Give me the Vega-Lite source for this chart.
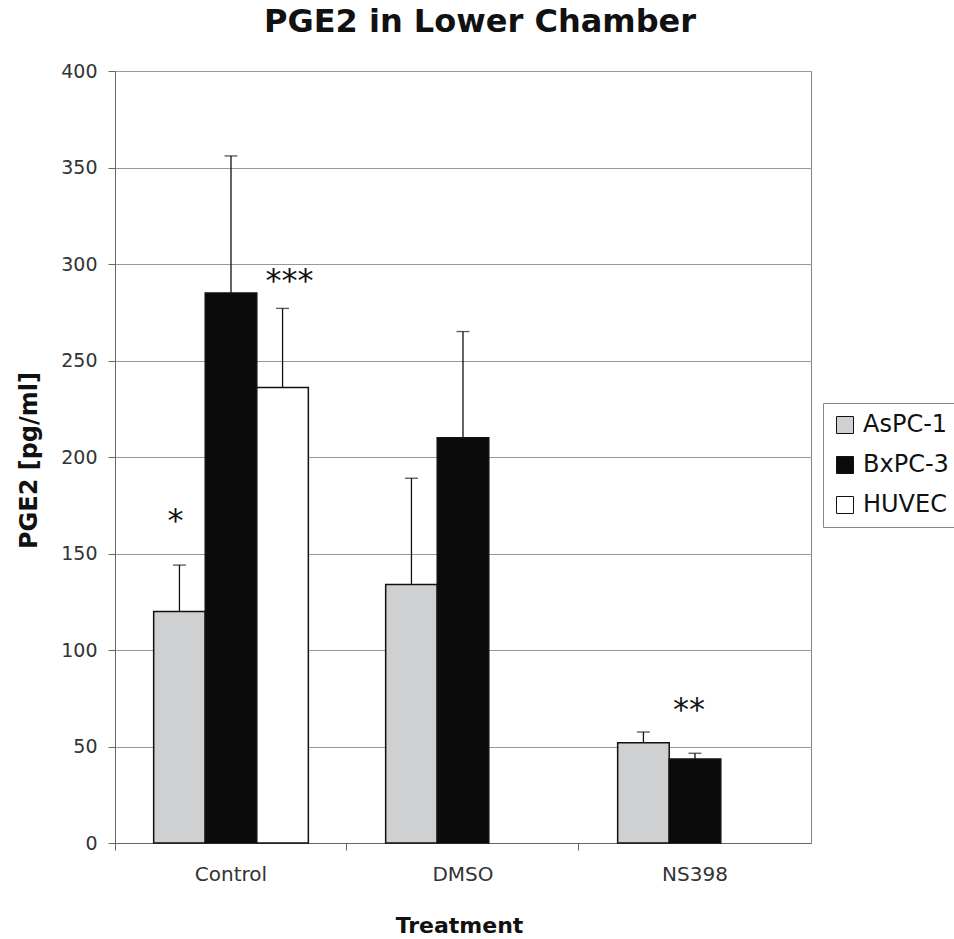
{
  "$schema": "https://vega.github.io/schema/vega-lite/v6.json",
  "autosize": "none",
  "width": 696,
  "height": 772,
  "padding": {"left": 115, "top": 71, "right": 143, "bottom": 96},
  "background": "white",
  "config": {
    "font": "DejaVu Sans",
    "view": {"stroke": "#808080", "strokeWidth": 1}
  },
  "title": {
    "text": "PGE2 in Lower Chamber",
    "fontSize": 32,
    "fontWeight": "bold",
    "font": "DejaVu Sans",
    "color": "#111",
    "anchor": "middle",
    "frame": "group",
    "dx": 17,
    "offset": 23
  },
  "datasets": {
    "bars": [
      {"treatment": "Control", "cell": "AsPC-1", "mean": 120, "upper": 144},
      {"treatment": "Control", "cell": "BxPC-3", "mean": 285, "upper": 356},
      {"treatment": "Control", "cell": "HUVEC", "mean": 236, "upper": 277},
      {"treatment": "DMSO", "cell": "AsPC-1", "mean": 134, "upper": 189},
      {"treatment": "DMSO", "cell": "BxPC-3", "mean": 210, "upper": 265},
      {"treatment": "NS398", "cell": "AsPC-1", "mean": 52, "upper": 57.5},
      {"treatment": "NS398", "cell": "BxPC-3", "mean": 43.5, "upper": 46.5}
    ],
    "notes": [
      {"treatment": "Control", "cell": "AsPC-1", "y": 168.4, "label": "*"},
      {"treatment": "Control", "cell": "HUVEC", "y": 292.7, "label": "***"},
      {"treatment": "NS398", "cell": "BxPC-3", "y": 70.6, "label": "**"}
    ]
  },
  "encoding": {
    "x": {
      "field": "treatment",
      "type": "nominal",
      "sort": ["Control", "DMSO", "NS398"],
      "scale": {"paddingInner": 0.3333, "paddingOuter": 0.1667},
      "axis": {
        "title": "Treatment",
        "titleFont": "DejaVu Sans",
        "titleFontSize": 22,
        "titleFontWeight": "bold",
        "titleColor": "#111",
        "titleX": 344,
        "titleY": 82,
        "titleBaseline": "middle",
        "labelAngle": 0,
        "labelFontSize": 20,
        "labelColor": "#333",
        "labelPadding": 14,
        "tickSize": 7,
        "tickColor": "#666",
        "bandPosition": -0.25,
        "domainColor": "#666"
      }
    },
    "xOffset": {
      "field": "cell",
      "type": "nominal",
      "scale": {"domain": ["AsPC-1", "BxPC-3", "HUVEC"], "paddingInner": 0, "paddingOuter": 0}
    }
  },
  "layer": [
    {
      "data": {"name": "bars"},
      "mark": {"type": "bar", "stroke": "#111", "strokeWidth": 1.5},
      "encoding": {
        "y": {
          "field": "mean",
          "type": "quantitative",
          "scale": {"domain": [0, 400], "nice": false},
          "axis": {
            "values": [0, 50, 100, 150, 200, 250, 300, 350, 400],
            "title": "PGE2 [pg/ml]",
            "titleFont": "DejaVu Sans",
            "titleFontSize": 24,
            "titleFontWeight": "bold",
            "titleColor": "#111",
            "titleX": -86,
            "titleY": 389,
            "titleAlign": "center",
            "titleBaseline": "middle",
            "labelFontSize": 19,
            "labelColor": "#333",
            "labelPadding": 11,
            "tickSize": 7,
            "tickColor": "#666",
            "domainColor": "#666",
            "gridColor": "#999",
            "gridWidth": 1
          }
        },
        "color": {
          "field": "cell",
          "type": "nominal",
          "scale": {"domain": ["AsPC-1", "BxPC-3", "HUVEC"], "range": ["#cfd0d2", "#0b0b0b", "#ffffff"]},
          "legend": {
            "title": null,
            "orient": "none",
            "legendX": 708,
            "legendY": 332,
            "symbolType": "square",
            "symbolSize": 289,
            "symbolStrokeColor": "#111",
            "symbolStrokeWidth": 1,
            "labelFont": "DejaVu Sans",
            "labelFontSize": 24,
            "labelColor": "#111",
            "labelOffset": 6,
            "rowPadding": 16,
            "padding": 10,
            "strokeColor": "#888",
            "fillColor": "white"
          }
        }
      }
    },
    {
      "data": {"name": "bars"},
      "mark": {"type": "rule", "color": "#111", "strokeWidth": 1.3},
      "encoding": {
        "y": {"field": "mean", "type": "quantitative"},
        "y2": {"field": "upper"}
      }
    },
    {
      "data": {"name": "bars"},
      "mark": {"type": "tick", "color": "#111", "thickness": 1.3, "size": 13},
      "encoding": {
        "y": {"field": "upper", "type": "quantitative"}
      }
    },
    {
      "data": {"name": "notes"},
      "transform": [{"filter": "datum.label == '*'"}],
      "mark": {"type": "text", "font": "DejaVu Sans", "fontSize": 32, "color": "#111", "baseline": "alphabetic", "dy": 13, "dx": -4},
      "encoding": {
        "y": {"field": "y", "type": "quantitative"},
        "text": {"field": "label"}
      }
    },
    {
      "data": {"name": "notes"},
      "transform": [{"filter": "datum.label == '***'"}],
      "mark": {"type": "text", "font": "DejaVu Sans", "fontSize": 32, "color": "#111", "baseline": "alphabetic", "dy": 13, "dx": 7},
      "encoding": {
        "y": {"field": "y", "type": "quantitative"},
        "text": {"field": "label"}
      }
    },
    {
      "data": {"name": "notes"},
      "transform": [{"filter": "datum.label == '**'"}],
      "mark": {"type": "text", "font": "DejaVu Sans", "fontSize": 32, "color": "#111", "baseline": "alphabetic", "dy": 13, "dx": -6},
      "encoding": {
        "y": {"field": "y", "type": "quantitative"},
        "text": {"field": "label"}
      }
    }
  ]
}
